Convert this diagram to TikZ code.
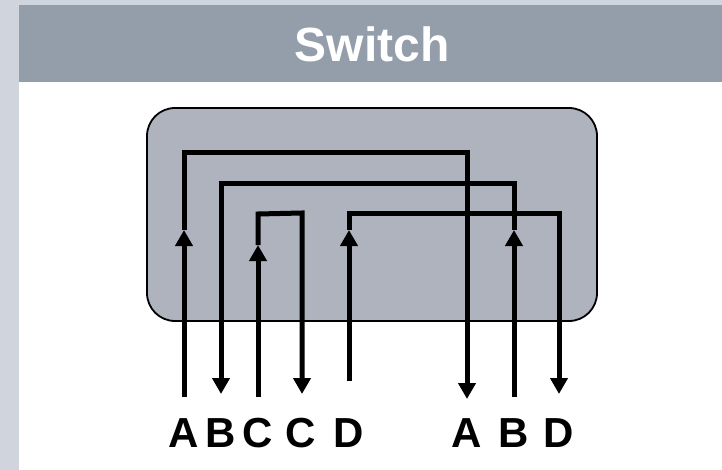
\documentclass[tikz,border=0pt]{standalone}
\usepackage{fontspec}
\setmainfont{Liberation Sans}
\usetikzlibrary{arrows.meta}
\definecolor{stripc}{HTML}{D0D4DC}
\definecolor{headc}{HTML}{949EAA}
\definecolor{boxc}{HTML}{AFB3BE}
\tikzset{
  wire/.style={line width=5pt, line join=miter, draw=black},
  warrow/.style={wire, -{Triangle[length=16pt,width=17pt]}},
  lbl/.style={anchor=base, inner sep=0pt, font=\fontsize{42}{42}\selectfont\bfseries},
}
\begin{document}
\begin{tikzpicture}[x=1pt,y=-1pt]
\useasboundingbox (0,0) rectangle (722,470);
% background
\fill[stripc] (0,0) rectangle (722,470);
\fill[white] (19,82) rectangle (722,470);
\fill[headc] (19,5) rectangle (722,82);
\node[anchor=base, text=white, inner sep=0pt, font=\fontsize{48}{48}\selectfont\bfseries] (title) at (372,62) {Switch};
% switch box
\draw[fill=boxc, line width=1.8pt, rounded corners=28pt] (147,108) rectangle (597,321);
% coordinates
\coordinate (a0) at (184,397); \coordinate (a1) at (184,230); \coordinate (a2) at (184,153);
\coordinate (a3) at (467,153); \coordinate (a4) at (467,399);
\coordinate (b0) at (514,397); \coordinate (b1) at (514,230); \coordinate (b2) at (514,184);
\coordinate (b3) at (221,184); \coordinate (b4) at (221,394);
\coordinate (c0) at (258,397); \coordinate (c1) at (258,245); \coordinate (c2) at (258,214);
\coordinate (c3) at (302,213); \coordinate (c4) at (302,394);
\coordinate (d0) at (349,381); \coordinate (d1) at (349,230); \coordinate (d2) at (349,214);
\coordinate (d3) at (559,214); \coordinate (d4) at (559,394);
% wires
\draw[warrow] (a0) -- (a1);
\draw[warrow] (a1) -- (a2) -- (a3) -- (a4);
\draw[warrow] (b0) -- (b1);
\draw[warrow] (b1) -- (b2) -- (b3) -- (b4);
\draw[warrow] (c0) -- (c1);
\draw[warrow] (c1) -- (c2) -- (c3) -- (c4);
\draw[warrow] (d0) -- (d1);
\draw[warrow] (d1) -- (d2) -- (d3) -- (d4);
% labels
\node[lbl] (la1) at (184,447) {A};
\node[lbl] (lb1) at (221,447) {B};
\node[lbl] (lc1) at (258,447) {C};
\node[lbl] (lc2) at (301,447) {C};
\node[lbl] (ld1) at (349,447) {D};
\node[lbl] (la2) at (467,447) {A};
\node[lbl] (lb2) at (514,447) {B};
\node[lbl] (ld2) at (559,447) {D};
\end{tikzpicture}
\end{document}
